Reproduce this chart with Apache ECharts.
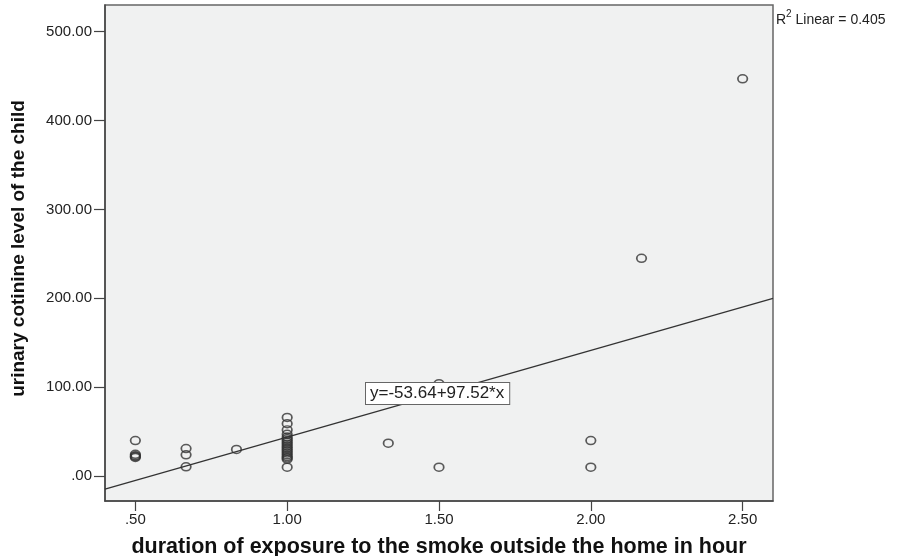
<!DOCTYPE html>
<html>
<head>
<meta charset="utf-8">
<script src="https://cdn.jsdelivr.net/npm/echarts@6/dist/echarts.min.js"></script>
<style>
  html, body { margin: 0; padding: 0; background: #ffffff; }
  #chart { width: 903px; height: 556px; }
</style>
</head>
<body>
<div id="chart"></div>
<script>
// Exposure duration (hours) and urinary cotinine level for each child
const exposureHours = [
  0.5, 0.5, 0.5, 0.5, 0.5,
  0.667, 0.667, 0.667,
  0.833,
  1, 1, 1, 1, 1, 1, 1, 1, 1, 1, 1, 1, 1, 1, 1, 1, 1, 1, 1,
  1.333,
  1.5, 1.5,
  2, 2,
  2.167,
  2.5
];
const cotinineLevels = [
  40, 24.5, 23, 22, 21,
  31, 24, 10.5,
  30,
  66, 59, 52, 47, 44, 42, 40, 38, 36, 34, 32, 30, 28, 26, 24, 22, 20.5, 19, 10,
  37,
  104, 10,
  40, 10,
  245,
  447
];

// Axis ticks
const xTickValues = [0.5, 1.0, 1.5, 2.0, 2.5];
const yTickValues = [0, 100, 200, 300, 400, 500];

// Linear fit reported for the data
const fitIntercept = -53.64;
const fitSlope = 97.52;
const rSquared = 0.405;

const xMin = 0.4, xMax = 2.6;
const yMin = -28, yMax = 530;

const points = exposureHours.map((x, i) => [x, cotinineLevels[i]]);
const fitLine = [xMin, xMax].map(x => [x, fitIntercept + fitSlope * x]);

// SPSS-style decimal labels: ".50", "1.00", ".00"
const fmt = v => v.toFixed(2).replace(/^0\./, '.');

const textColor = '#222';
const lineColor = '#444';
const baseFont = '"Liberation Sans", Arial, sans-serif';

const chart = echarts.init(document.getElementById('chart'), null, { renderer: 'canvas' });

chart.setOption({
  animation: false,
  backgroundColor: '#ffffff',
  grid: {
    left: 105, right: 130, top: 5, bottom: 55,
    outerBoundsMode: 'none',
    containLabel: false,
    show: true,
    backgroundColor: '#f0f1f1',
    borderColor: '#666',
    borderWidth: 1.5
  },
  xAxis: {
    type: 'value',
    min: xMin, max: xMax,
    name: 'duration of exposure to the smoke outside the home in hour',
    nameLocation: 'middle',
    nameGap: 35,
    nameTextStyle: { fontFamily: baseFont, fontWeight: 'bold', fontSize: 21.5, color: '#111' },
    axisLine: { show: true, onZero: false, lineStyle: { color: lineColor, width: 1.5 } },
    axisTick: { show: true, length: 10, customValues: xTickValues, lineStyle: { color: lineColor, width: 1.2 } },
    axisLabel: { customValues: xTickValues, formatter: fmt, fontFamily: baseFont, fontSize: 15, color: textColor, margin: 11 },
    splitLine: { show: false }
  },
  yAxis: {
    type: 'value',
    min: yMin, max: yMax,
    name: 'urinary cotinine level of the child',
    nameLocation: 'middle',
    nameGap: 77,
    nameTextStyle: { fontFamily: baseFont, fontWeight: 'bold', fontSize: 19, color: '#111', padding: [0, 0, 0, 9] },
    axisLine: { show: true, onZero: false, lineStyle: { color: lineColor, width: 1.5 } },
    axisTick: { show: true, length: 11, customValues: yTickValues, lineStyle: { color: lineColor, width: 1.2 } },
    axisLabel: { customValues: yTickValues, formatter: fmt, fontFamily: baseFont, fontSize: 15, color: textColor, margin: 13 },
    splitLine: { show: false }
  },
  series: [
    {
      type: 'line',
      data: fitLine,
      showSymbol: false,
      symbol: 'none',
      silent: true,
      lineStyle: { color: '#333', width: 1.3 },
      z: 2
    },
    {
      type: 'scatter',
      data: points,
      symbol: 'circle',
      symbolSize: [9.5, 8],
      silent: true,
      itemStyle: { color: 'rgba(0,0,0,0)', borderColor: '#333', borderWidth: 1.6 },
      z: 3
    }
  ],
  graphic: [
    {
      type: 'text',
      left: 365,
      top: 382,
      z: 10,
      style: {
        text: 'y=' + fitIntercept + '+' + fitSlope + '*x',
        font: '17px ' + baseFont,
        fill: '#222',
        backgroundColor: '#ffffff',
        borderColor: '#666',
        borderWidth: 1,
        padding: [2, 5, 2, 4]
      }
    },
    {
      type: 'text',
      left: 776,
      top: 9,
      style: {
        text: '{b|R}{s|2}{b| Linear = ' + rSquared + '}',
        rich: {
          b: { fontFamily: baseFont, fontSize: 14, fill: '#222', verticalAlign: 'bottom', lineHeight: 18 },
          s: { fontFamily: baseFont, fontSize: 10, fill: '#222', verticalAlign: 'top', lineHeight: 18, padding: [0, 0, 7, 0] }
        }
      }
    }
  ]
});
</script>
</body>
</html>
